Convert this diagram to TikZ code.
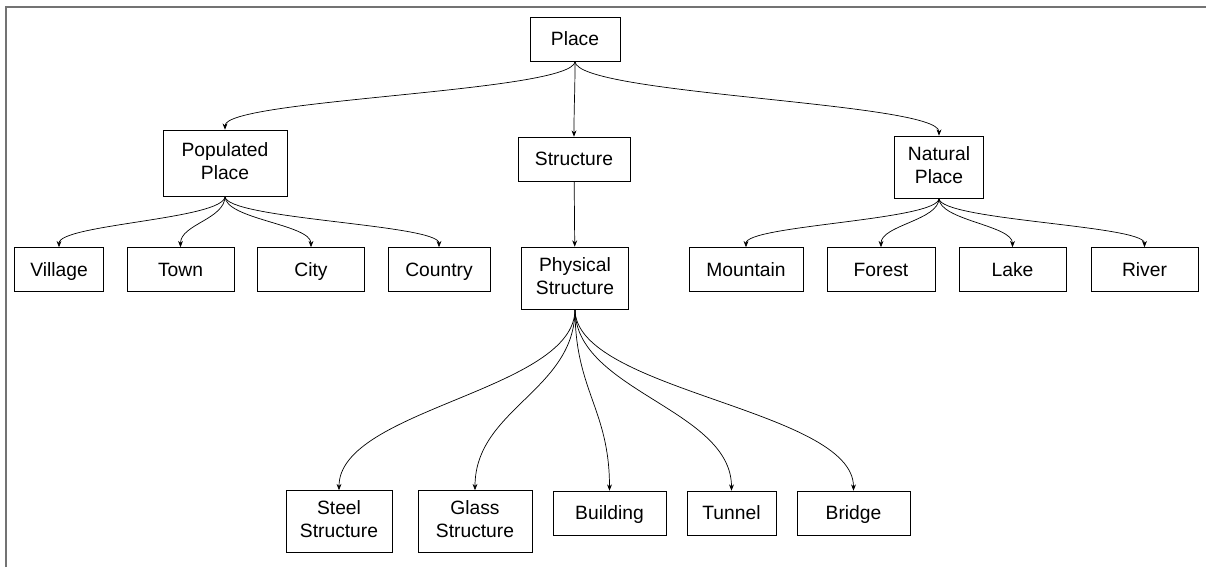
\documentclass[tikz,border=0pt]{standalone}
\usepackage{fontspec}
\setmainfont{Liberation Sans}
\usetikzlibrary{arrows.meta,calc}

\newcommand{\boxstrut}{\rule[-0.23em]{0pt}{1.18em}}

\tikzset{
  box/.style={draw, align=center, inner sep=0pt, minimum height=1.1cm,
    font=\fontsize{13.7}{16.4}\selectfont,
    execute at begin node=\boxstrut, execute at end node=\boxstrut},
  link/.style={->, >={Stealth[length=4.5pt,width=3.5pt]}, line width=0.5pt,
    to path={let \p1=(\tikztostart), \p2=(\tikztotarget) in
      .. controls (\x1,{\y1+0.45*(\y2-\y1)}) and (\x2,{\y2-0.45*(\y2-\y1)}) .. (\tikztotarget)}},
  frame/.style={line width=1.1pt, color=black!55}
}

\begin{document}
\begin{tikzpicture}[x=0.025cm, y=-0.025cm]
  \useasboundingbox (0,0) rectangle (1206,567);
  \draw[frame] (6,567) -- (6,7) -- (1206,7);
  % top levels
  \node[box, minimum width=2.25cm] (place) at (575,39) {Place};
  \node[box, minimum width=3.1cm, minimum height=1.65cm] (populated) at (225,163) {Populated\\Place};
  \node[box, minimum width=2.8cm] (structure) at (574,159) {Structure};
  \node[box, minimum width=2.23cm, minimum height=1.55cm] (natural) at (939,167) {Natural\\Place};
  % populated places
  \node[box, minimum width=2.23cm] (village) at (59,269.5) {Village};
  \node[box, minimum width=2.68cm] (town) at (180.5,269.5) {Town};
  \node[box, minimum width=2.68cm] (city) at (311,269.5) {City};
  \node[box, minimum width=2.55cm] (country) at (439,269.5) {Country};
  % structures
  \node[box, minimum width=2.68cm, minimum height=1.55cm] (physical) at (575,278) {Physical\\Structure};
  \node[box, minimum width=2.65cm, minimum height=1.55cm] (steel) at (339,521.5) {Steel\\Structure};
  \node[box, minimum width=2.85cm, minimum height=1.55cm] (glass) at (475,521.5) {Glass\\Structure};
  \node[box, minimum width=2.83cm] (building) at (609.5,513) {Building};
  \node[box, minimum width=2.23cm] (tunnel) at (731.5,513) {Tunnel};
  \node[box, minimum width=2.83cm] (bridge) at (853.5,513) {Bridge};
  % natural places
  \node[box, minimum width=2.85cm] (mountain) at (746,269.5) {Mountain};
  \node[box, minimum width=2.7cm] (forest) at (881,269.5) {Forest};
  \node[box, minimum width=2.68cm] (lake) at (1012.5,269.5) {Lake};
  \node[box, minimum width=2.68cm] (river) at (1144.5,269.5) {River};
  % connectors
  \foreach \c in {populated,structure,natural}
    \draw[link] (place.south) to (\c.north);
  \draw[link] (structure) -- (physical);
  \foreach \c in {village,town,city,country}
    \draw[link] (populated.south) to (\c.north);
  \foreach \c in {steel,glass,building,tunnel,bridge}
    \draw[link] (physical.south) to (\c.north);
  \foreach \c in {mountain,forest,lake,river}
    \draw[link] (natural.south) to (\c.north);
\end{tikzpicture}
\end{document}
